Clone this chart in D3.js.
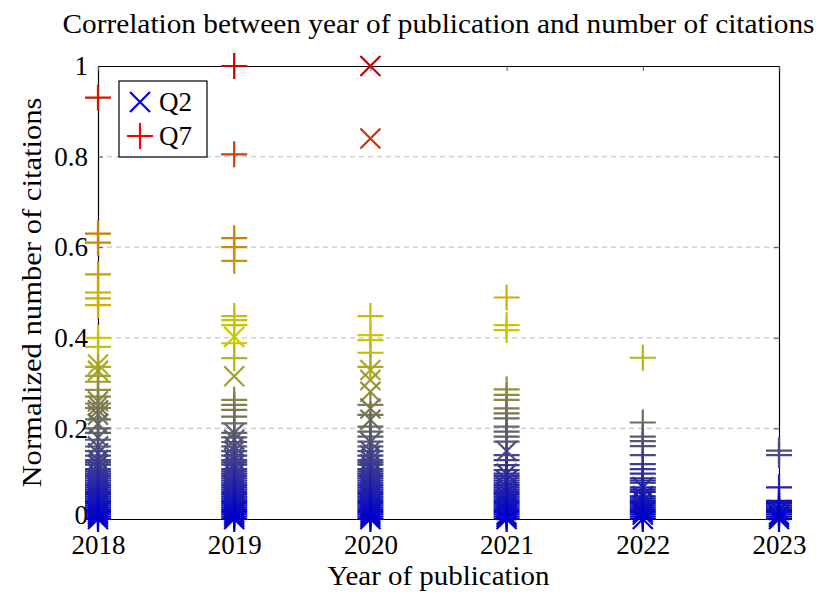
<!DOCTYPE html>
<html>
<head>
<meta charset="utf-8">
<script src="https://cdn.jsdelivr.net/npm/d3@7"></script>
<style>
  body { margin: 0; background: #fff; }
  text { font-family: "Liberation Serif", serif; fill: #000; }
</style>
</head>
<body>
<div id="chart"></div>
<script>
// Data, normalized citations per paper
var years = [2018, 2019, 2020, 2021, 2022, 2023]
var yTicks = [0, 0.2, 0.4, 0.6, 0.8, 1]

var q2 = [
  [2018, [0.341, 0.327, 0.26, 0.25, 0.24, 0.23, 0.21, 0.18, 0.16, 0.145, 0.13, 0.12, 0.11, 0.10, 0.09, 0.08, 0.07, 0.06, 0.05, 0.045, 0.04, 0.035, 0.03, 0.025, 0.02, 0.015, 0.01, 0.005, 0]],
  [2019, [0.402, 0.315, 0.19, 0.175, 0.16, 0.15, 0.14, 0.13, 0.12, 0.11, 0.10, 0.09, 0.08, 0.07, 0.06, 0.05, 0.04, 0.035, 0.03, 0.025, 0.02, 0.015, 0.01, 0.005, 0]],
  [2020, [1.0, 0.84, 0.329, 0.307, 0.281, 0.244, 0.219, 0.17, 0.15, 0.14, 0.13, 0.12, 0.11, 0.10, 0.09, 0.08, 0.07, 0.06, 0.05, 0.04, 0.03, 0.025, 0.02, 0.015, 0.01, 0.005, 0]],
  [2021, [0.15, 0.10, 0.085, 0.07, 0.06, 0.05, 0.04, 0.03, 0.025, 0.02, 0.01, 0.005, 0]],
  [2022, [0.07, 0.05, 0.04, 0.03, 0.02, 0.015, 0.01, 0]],
  [2023, [0.02, 0.01, 0.005, 0]]
]

var q7 = [
  [2018, [0.93, 0.63, 0.61, 0.54, 0.50, 0.487, 0.472, 0.40, 0.38, 0.336, 0.316, 0.303, 0.285, 0.27, 0.255, 0.245, 0.22, 0.20, 0.19, 0.175, 0.16, 0.15, 0.14, 0.13, 0.125, 0.12, 0.11, 0.105, 0.10, 0.095, 0.09, 0.085, 0.08, 0.075, 0.07, 0.065, 0.06, 0.055, 0.05, 0.045, 0.04, 0.035, 0.03, 0.025, 0.02, 0.015, 0.01, 0.005, 0]],
  [2019, [1.0, 0.805, 0.62, 0.60, 0.57, 0.448, 0.439, 0.428, 0.388, 0.355, 0.263, 0.252, 0.241, 0.226, 0.211, 0.19, 0.18, 0.17, 0.16, 0.15, 0.14, 0.13, 0.125, 0.12, 0.11, 0.105, 0.10, 0.095, 0.09, 0.085, 0.08, 0.075, 0.07, 0.065, 0.06, 0.055, 0.05, 0.045, 0.04, 0.035, 0.03, 0.025, 0.02, 0.015, 0.01, 0.005, 0]],
  [2020, [0.448, 0.406, 0.395, 0.367, 0.336, 0.252, 0.23, 0.204, 0.193, 0.182, 0.171, 0.16, 0.15, 0.14, 0.13, 0.125, 0.12, 0.11, 0.105, 0.10, 0.095, 0.09, 0.085, 0.08, 0.075, 0.07, 0.065, 0.06, 0.055, 0.05, 0.045, 0.04, 0.035, 0.03, 0.025, 0.02, 0.015, 0.01, 0.005, 0]],
  [2021, [0.489, 0.428, 0.417, 0.286, 0.274, 0.263, 0.244, 0.233, 0.222, 0.204, 0.193, 0.182, 0.171, 0.141, 0.13, 0.119, 0.108, 0.10, 0.095, 0.09, 0.085, 0.08, 0.075, 0.07, 0.065, 0.06, 0.055, 0.05, 0.045, 0.04, 0.035, 0.03, 0.025, 0.02, 0.015, 0.01, 0.005, 0]],
  [2022, [0.356, 0.213, 0.182, 0.172, 0.161, 0.141, 0.121, 0.11, 0.10, 0.09, 0.085, 0.08, 0.07, 0.065, 0.06, 0.05, 0.045, 0.04, 0.035, 0.03, 0.025, 0.02, 0.015, 0.01, 0.005, 0]],
  [2023, [0.151, 0.141, 0.07, 0.04, 0.035, 0.03, 0.025, 0.02, 0.015, 0.01, 0.005, 0]]
]

var svgWidth = 818
var svgHeight = 593
var margin = { top: 66, right: 39, bottom: 74, left: 98 }
var width = svgWidth - margin.left - margin.right
var height = svgHeight - margin.top - margin.bottom
var fontSize = '27px'

var svg = d3.select('#chart')
  .append('svg')
  .attr('width', svgWidth)
  .attr('height', svgHeight)

var chartGroup = svg.append('g')
  .attr('transform', `translate(${margin.left}, ${margin.top})`)

var xScale = d3.scaleLinear().domain([2018, 2023]).range([0, width])
var yScale = d3.scaleLinear().domain([0, 1]).range([height, 0])

// colormap: blue -> yellow -> red, by value
var colorScale = d3.scaleLinear()
  .domain([0, 0.4, 1])
  .range(['#0000cc', '#cccc00', '#cc0000'])

// grid lines
chartGroup.append('g')
  .selectAll('line')
  .data(yTicks.filter(d => d > 0 && d < 1))
  .enter()
  .append('line')
  .attr('x1', 0)
  .attr('x2', width)
  .attr('y1', d => yScale(d))
  .attr('y2', d => yScale(d))
  .attr('stroke', '#c8c8c8')
  .attr('stroke-width', 1.2)
  .attr('stroke-dasharray', '5,4')

// axes
var leftAxis = d3.axisLeft(yScale).tickValues(yTicks).tickSize(-5).tickPadding(10)
  .tickFormat(d => d3.format('~g')(d))
var rightAxis = d3.axisRight(yScale).tickValues(yTicks).tickSize(-5).tickFormat('')
var bottomAxis = d3.axisBottom(xScale).tickValues(years).tickSize(-5).tickPadding(16)
  .tickFormat(d3.format('d'))
var topAxis = d3.axisTop(xScale).tickValues(years).tickSize(-5).tickFormat('')

function styleAxis(g) {
  g.select('.domain').attr('stroke', '#000').attr('stroke-width', 1.2)
  g.selectAll('.tick line').attr('stroke', '#555')
  g.selectAll('.tick text')
    .style('font-family', '"Liberation Serif", serif')
    .style('font-size', fontSize)
    .attr('fill', '#000')
}

var yAxisG = chartGroup.append('g').call(leftAxis).call(styleAxis)
// nudge the "0" label up so it clears the first year label
yAxisG.selectAll('.tick text').filter(d => d === 0).attr('y', -4)
chartGroup.append('g').attr('transform', `translate(${width}, 0)`).call(rightAxis).call(styleAxis)
chartGroup.append('g').attr('transform', `translate(0, ${height})`).call(bottomAxis).call(styleAxis)
chartGroup.append('g').call(topAxis).call(styleAxis)

var plusPath = 'M-13,0H13M0,-13V13'
var crossPath = 'M-10,-10L10,10M-10,10L10,-10'

function flatten(series) {
  var out = []
  series.forEach(s => s[1].forEach(v => out.push({ year: s[0], value: v })))
  return out
}

chartGroup.append('g')
  .selectAll('path')
  .data(flatten(q2))
  .enter()
  .append('path')
  .attr('d', crossPath)
  .attr('transform', d => `translate(${xScale(d.year)}, ${yScale(d.value)})`)
  .attr('stroke', d => colorScale(d.value))
  .attr('stroke-width', 2.2)
  .attr('fill', 'none')

chartGroup.append('g')
  .selectAll('path')
  .data(flatten(q7))
  .enter()
  .append('path')
  .attr('d', plusPath)
  .attr('transform', d => `translate(${xScale(d.year)}, ${yScale(d.value)})`)
  .attr('stroke', d => colorScale(d.value))
  .attr('stroke-width', 2.2)
  .attr('fill', 'none')

// legend
var legend = svg.append('g').attr('transform', 'translate(119, 81)')
legend.append('rect')
  .attr('width', 88)
  .attr('height', 76)
  .attr('fill', '#fff')
  .attr('stroke', '#000')
  .attr('stroke-width', 1.2)
var legendItems = [
  { name: 'Q2', path: crossPath, color: '#0000ff' },
  { name: 'Q7', path: plusPath, color: '#ff0000' }
]
legendItems.forEach((item, i) => {
  legend.append('path')
    .attr('d', item.path)
    .attr('transform', `translate(21, ${21 + i * 34})`)
    .attr('stroke', item.color)
    .attr('stroke-width', 2.2)
    .attr('fill', 'none')
  legend.append('text')
    .attr('x', 40)
    .attr('y', 21 + i * 34)
    .attr('dy', '0.35em')
    .style('font-size', fontSize)
    .text(item.name)
})

// title and axis labels
svg.append('text')
  .attr('x', margin.left + width / 2)
  .attr('y', 33)
  .attr('textLength', 752)
  .attr('lengthAdjust', 'spacingAndGlyphs')
  .style('text-anchor', 'middle')
  .style('font-size', fontSize)
  .text('Correlation between year of publication and number of citations')

svg.append('text')
  .attr('x', margin.left + width / 2)
  .attr('y', 585)
  .attr('textLength', 222)
  .attr('lengthAdjust', 'spacingAndGlyphs')
  .style('text-anchor', 'middle')
  .style('font-size', fontSize)
  .text('Year of publication')

svg.append('text')
  .attr('transform', `translate(41, ${margin.top + height / 2}) rotate(-90)`)
  .attr('textLength', 390)
  .attr('lengthAdjust', 'spacingAndGlyphs')
  .style('text-anchor', 'middle')
  .style('font-size', fontSize)
  .text('Normalized number of citations')
</script>
</body>
</html>
